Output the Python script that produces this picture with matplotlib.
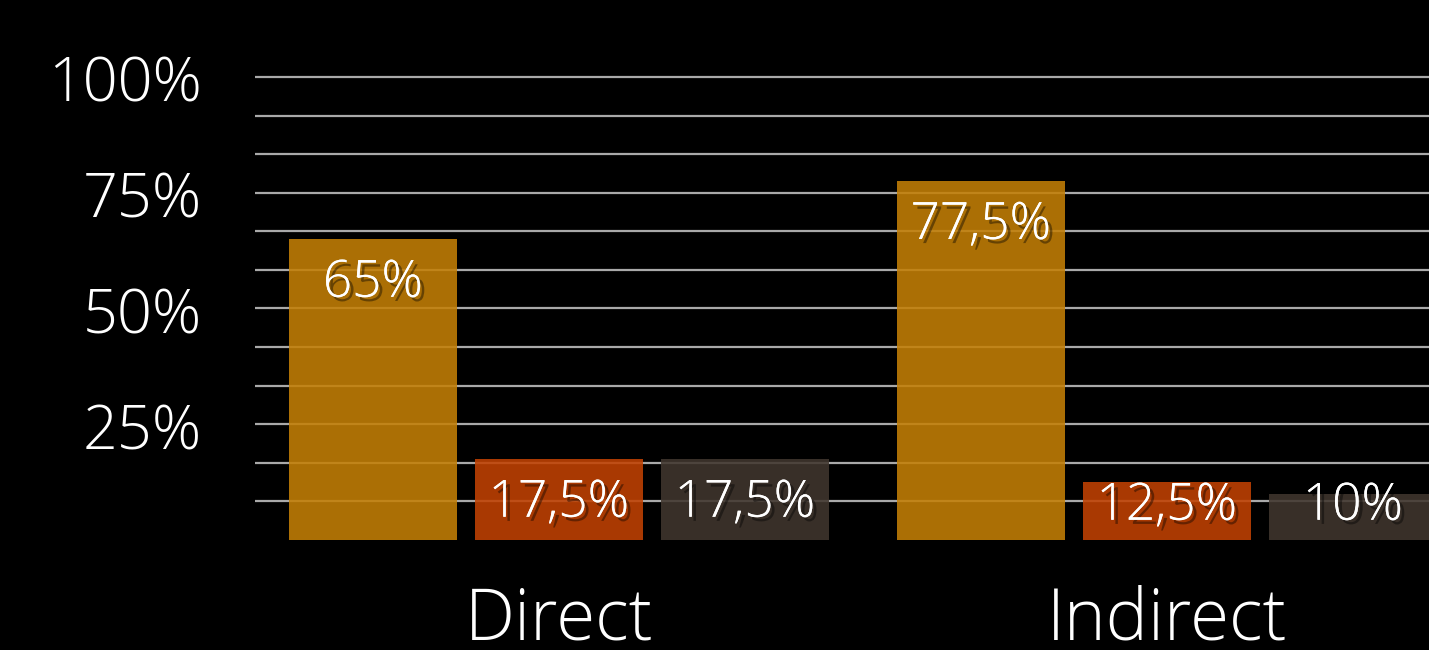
import matplotlib
matplotlib.use("Agg")
import matplotlib.pyplot as plt
import matplotlib.patheffects as pe
from matplotlib.transforms import blended_transform_factory

categories = ["Direct", "Indirect"]
series_a = [65, 77.5]
series_b = [17.5, 12.5]
series_c = [17.5, 10]
value_labels_a = ["65%", "77,5%"]
value_labels_b = ["17,5%", "12,5%"]
value_labels_c = ["17,5%", "10%"]
ytick_values = [100, 75, 50, 25]
ytick_labels = ["100%", "75%", "50%", "25%"]

colors = ["#C47F06", "#C24203", "#40362E"]
bar_alpha = 0.88
grid_color = "#A9A9A9"

plt.rcParams['font.family'] = ['Open Sans', 'DejaVu Sans']
FW = "light"

W, H = 1429, 650
fig = plt.figure(figsize=(W / 100, H / 100), dpi=100, facecolor="black")
px_per_unit = 463 / 100
ytop = 105
ax_h = px_per_unit * ytop
ax = fig.add_axes([255 / W, (H - 540) / H, 1 - 255 / W, ax_h / H])
ax.set_facecolor("black")
ax.set_ylim(0, ytop)
ax.set_xlim(-0.500, 1.431)
for s in ax.spines.values():
    s.set_visible(False)
ax.set_xticks([])
ax.set_yticks([])

for k in range(1, 13):
    ax.axhline(k * 100 / 12, color=grid_color, lw=1.6, zorder=1)

width = 0.276
offset = 0.306
shadow = [pe.withSimplePatchShadow(offset=(3, -3), shadow_rgbFace="black", alpha=0.4), pe.Normal()]
all_series = [series_a, series_b, series_c]
all_labels = [value_labels_a, value_labels_b, value_labels_c]
for j, (vals, labs) in enumerate(zip(all_series, all_labels)):
    for i, v in enumerate(vals):
        x = i + (j - 1) * offset
        ax.bar(x, v, width=width, color=colors[j], alpha=bar_alpha, zorder=2, linewidth=0)
        ly = max(v - 44 / px_per_unit, 34 / px_per_unit)
        ax.text(x, ly, labs[i], ha="center", va="center", color="white",
                fontsize=37, fontweight=FW, zorder=3, path_effects=shadow)

for v, lab in zip(ytick_values, ytick_labels):
    fig.text(202 / W, (H - (540 - v * px_per_unit + 9)) / H, lab, ha="right", va="center",
             color="white", fontsize=44, fontweight=FW)

tr = blended_transform_factory(ax.transData, fig.transFigure)
for i, c in enumerate(categories):
    ax.text(i, (H - 640) / H, c, transform=tr, ha="center", va="baseline",
            color="white", fontsize=51, fontweight=FW, clip_on=False)

fig.savefig("out.png", dpi=100, facecolor="black")
